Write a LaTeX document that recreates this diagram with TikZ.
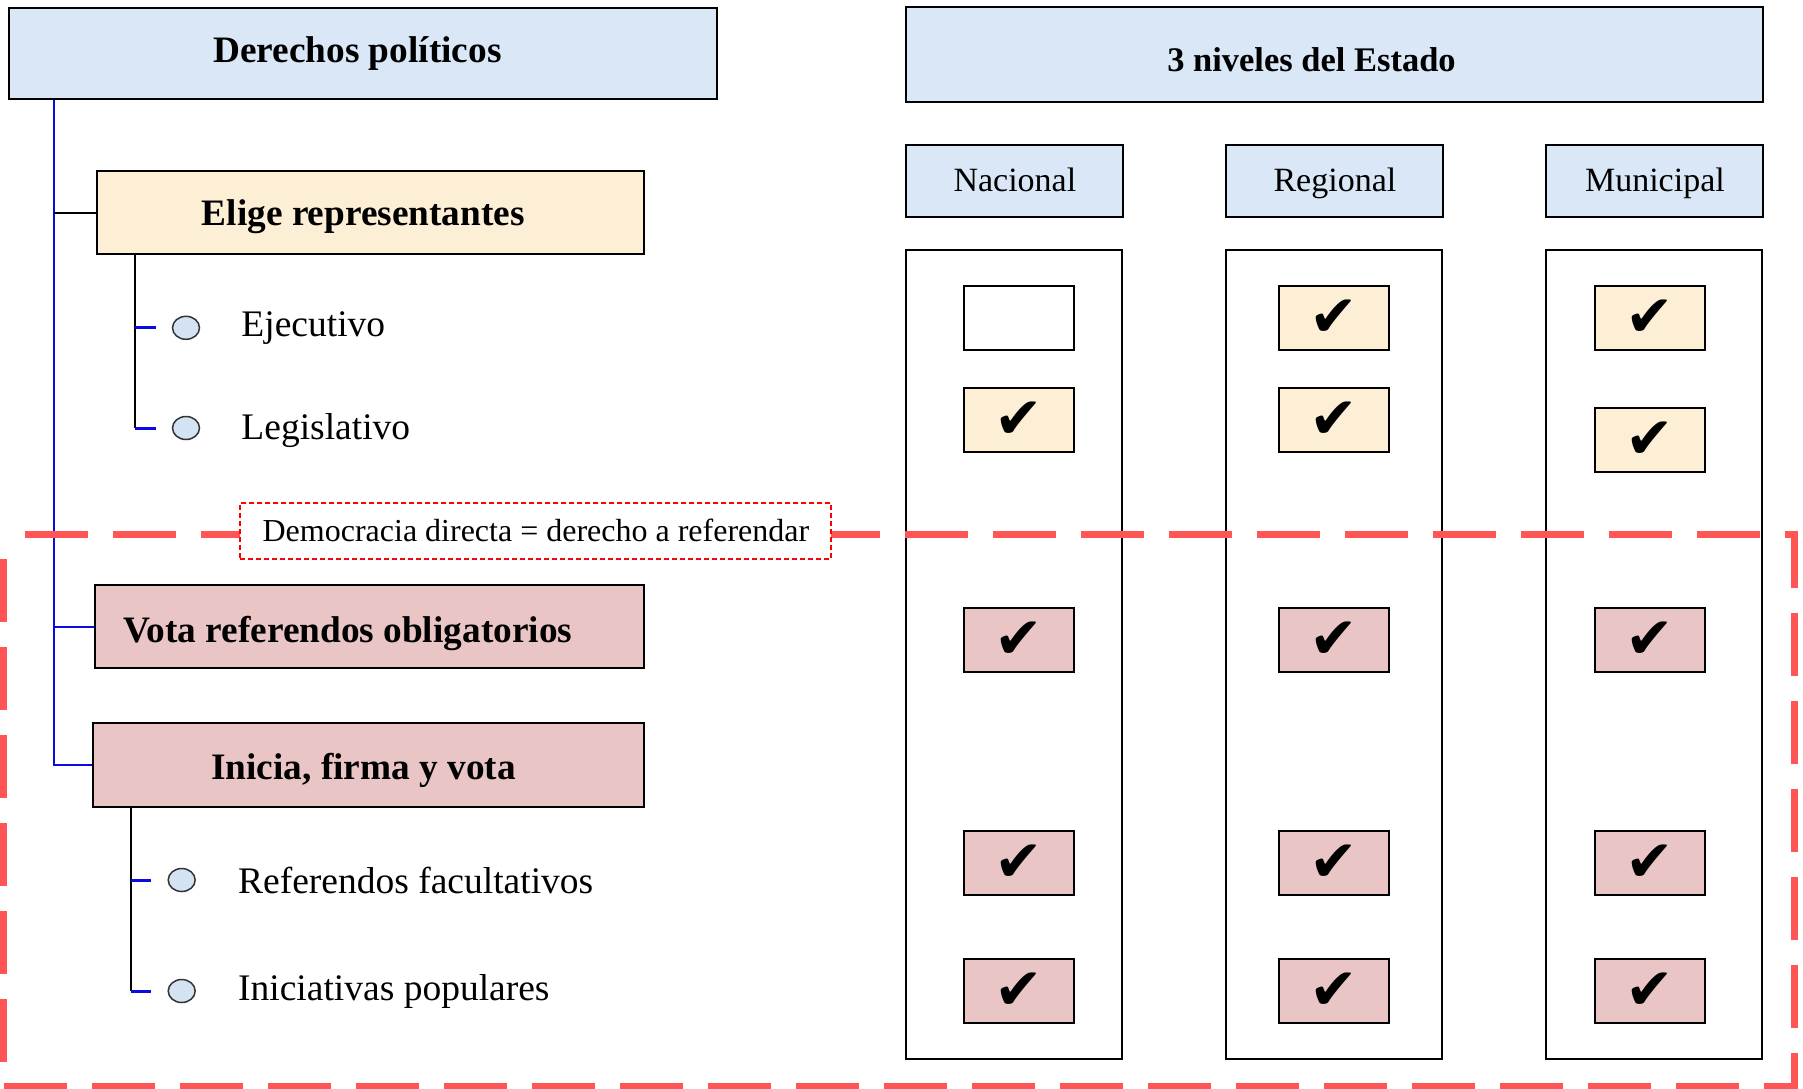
\documentclass[tikz,border=0pt]{standalone}
\usepackage{fontspec}
\setmainfont{Liberation Serif}
\newfontfamily\symfont{DejaVu Sans}
\usetikzlibrary{shapes.geometric}
\usetikzlibrary{calc,positioning}

\definecolor{hdrblue}{HTML}{D9E7F7}
\definecolor{eligefill}{HTML}{FCEFD6}
\definecolor{votefill}{HTML}{EAC5C6}
\definecolor{dotfill}{HTML}{D3E3F3}
\definecolor{zonered}{HTML}{FF5555}
\definecolor{treeblue}{HTML}{0A0AE6}

\newcommand{\okmark}{{\symfont\fontsize{58}{58}\selectfont ✔}}
\newcommand{\lowered}[2]{\raisebox{-#1}[\height][\depth]{#2}}

\begin{document}
\begin{tikzpicture}[x=1pt, y=-1pt, node distance=320pt,
bigbox/.style = {draw, line width=2pt, fill=hdrblue, inner sep=0, font=\bfseries\fontsize{37.3}{40}\selectfont},
lvlbox/.style = {draw, line width=2pt, fill=hdrblue, inner sep=0, minimum width=217pt, minimum height=72pt, text height=24pt, text depth=4pt, font=\fontsize{34}{36}\selectfont},
colbox/.style = {draw, line width=2pt, fill=white, inner sep=0, minimum width=216pt, minimum height=809pt},
chkbox/.style = {draw, line width=2pt, fill=eligefill, inner sep=0, minimum width=110pt, minimum height=64pt},
dot/.style = {ellipse, draw=black!80, line width=1.5pt, fill=dotfill, inner sep=0, minimum width=27pt, minimum height=23pt},
item/.style = {inner sep=0, font=\fontsize{37.5}{40}\selectfont},
trunkline/.style = {draw=treeblue, line width=2pt},
tickline/.style = {draw=treeblue, line width=3pt, shorten >=16pt},
zone/.style = {draw=zonered, line width=7pt, dash pattern=on 63pt off 25pt, dash phase=66.5pt},
demo/.style = {draw=red, line width=2pt, dash pattern=on 5pt off 3pt, fill=white, inner sep=0, minimum width=591pt, minimum height=56pt, font=\fontsize{32}{34}\selectfont}]

\useasboundingbox (0,0) rectangle (1803,1088);

\node[bigbox, minimum width=708pt, minimum height=91pt](derechos) at (363.4,53.5){\hspace*{-12pt}Derechos políticos};
\node[bigbox, minimum width=857pt, minimum height=95pt, font=\bfseries\fontsize{34.5}{36}\selectfont](niveles) at (1334.5,54.6){\hspace*{-46pt}\lowered{5pt}{3 niveles del Estado}};

\node[lvlbox](nac) at (1014.9,181){Nacional};
\node[lvlbox, right of=nac](reg){Regional};
\node[lvlbox, right of=reg](mun){Municipal};

\node[colbox](colnac) at (1014.3,654.3){};
\node[colbox, right of=colnac](colreg){};
\node[colbox, right of=colreg](colmun){};

\node[bigbox, fill=eligefill, minimum width=547pt, minimum height=83pt](elige) at (370.3,212.7){\hspace*{-14pt}\lowered{4pt}{Elige representantes}};
\node[bigbox, fill=votefill, minimum width=549pt, minimum height=83pt](vota) at (369.7,626.7){\hspace*{-44pt}\lowered{7pt}{Vota referendos obligatorios}};
\node[bigbox, fill=votefill, minimum width=551pt, minimum height=84pt](inicia) at (368.6,765.3){\hspace*{-10pt}\lowered{5pt}{Inicia, firma y vota}};

\node[dot](eje) at (186,327.8){};
\node[dot](leg) at (186,428){};
\node[dot](ref) at (181.7,880){};
\node[dot](ini) at (181.7,991){};

\node[item, right=41pt of eje](ejetxt){Ejecutivo};
\node[item, right=41pt of leg, yshift=-3pt](legtxt){Legislativo};
\node[item, right=42pt of ref](reftxt){Referendos facultativos};
\node[item, right=42pt of ini](initxt){Iniciativas populares};

\coordinate (trunk) at ([xshift=45.6pt]derechos.south west);
\coordinate (esub) at ([xshift=39pt]elige.south west);
\coordinate (isub) at ([xshift=39pt]inicia.south west);

\draw[trunkline] (trunk) |- (inicia.west);
\draw[trunkline] (trunk |- vota.west) -- (vota.west);
\draw[line width=2pt] (trunk |- elige.west) -- (elige.west);

\draw[line width=2pt] (esub) -- (esub |- leg);
\draw[tickline] (esub |- eje) -- (eje.west);
\draw[tickline] (esub |- leg) -- (leg.west);
\draw[line width=2pt] (isub) -- (isub |- ini);
\draw[tickline] (isub |- ref) -- (ref.west);
\draw[tickline] (isub |- ini) -- (ini.west);

\node[chkbox, fill=white](nac1) at (1019,318){};
\node[chkbox](nac2) at (1019,420){\okmark};
\node[chkbox](reg1) at (1334,318){\okmark};
\node[chkbox](reg2) at (1334,420){\okmark};
\node[chkbox](mun1) at (1650,318){\okmark};
\node[chkbox](mun2) at (1650,439.8){\okmark};
\node[chkbox, fill=votefill](nac3) at (1019,640){\okmark};
\node[chkbox, fill=votefill](reg3) at (1334,640){\okmark};
\node[chkbox, fill=votefill](mun3) at (1650,640){\okmark};
\node[chkbox, fill=votefill](nac4) at (1019,863){\okmark};
\node[chkbox, fill=votefill](reg4) at (1334,863){\okmark};
\node[chkbox, fill=votefill](mun4) at (1650,863){\okmark};
\node[chkbox, fill=votefill](nac5) at (1019,990.7){\okmark};
\node[chkbox, fill=votefill](reg5) at (1334,990.7){\okmark};
\node[chkbox, fill=votefill](mun5) at (1650,990.7){\okmark};

\draw[zone] (3.5,534) -- (1794,534) -- (1794,1086) -- (3.5,1086) -- cycle;

\node[demo](demo) at (535.9,530.7){Democracia directa = derecho a referendar};

\end{tikzpicture}
\end{document}
